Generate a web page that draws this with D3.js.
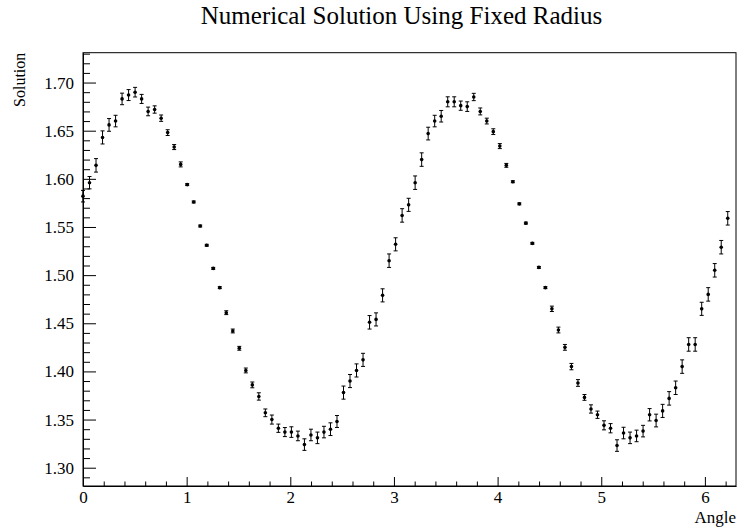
<!DOCTYPE html>
<html>
<head>
<meta charset="utf-8">
<script src="https://cdn.jsdelivr.net/npm/d3@7"></script>
<style>
  html, body { margin: 0; padding: 0; background: #fff; }
  svg { display: block; }
</style>
</head>
<body>
<svg id="chart" width="737" height="527"></svg>
<script>
const title = "Numerical Solution Using Fixed Radius";
const xLabel = "Angle";
const yLabel = "Solution";

const angles = [
  0.0000, 0.0628, 0.1257, 0.1885, 0.2513, 0.3142, 0.3770, 0.4398, 0.5027, 0.5655,
  0.6283, 0.6912, 0.7540, 0.8168, 0.8796, 0.9425, 1.0053, 1.0681, 1.1310, 1.1938,
  1.2566, 1.3195, 1.3823, 1.4451, 1.5080, 1.5708, 1.6336, 1.6965, 1.7593, 1.8221,
  1.8850, 1.9478, 2.0106, 2.0735, 2.1363, 2.1991, 2.2619, 2.3248, 2.3876, 2.4504,
  2.5133, 2.5761, 2.6389, 2.7018, 2.7646, 2.8274, 2.8903, 2.9531, 3.0159, 3.0788,
  3.1416, 3.2044, 3.2673, 3.3301, 3.3929, 3.4558, 3.5186, 3.5814, 3.6442, 3.7071,
  3.7699, 3.8327, 3.8956, 3.9584, 4.0212, 4.0841, 4.1469, 4.2097, 4.2726, 4.3354,
  4.3982, 4.4611, 4.5239, 4.5867, 4.6496, 4.7124, 4.7752, 4.8381, 4.9009, 4.9637,
  5.0265, 5.0894, 5.1522, 5.2150, 5.2779, 5.3407, 5.4035, 5.4664, 5.5292, 5.5920,
  5.6549, 5.7177, 5.7805, 5.8434, 5.9062, 5.9690, 6.0319, 6.0947, 6.1575, 6.2204
];

const solution = [
  1.582, 1.596, 1.614, 1.643, 1.656, 1.660, 1.683, 1.687, 1.690, 1.683,
  1.670, 1.672, 1.663, 1.648, 1.633, 1.615, 1.594, 1.576, 1.551, 1.531,
  1.507, 1.487, 1.461, 1.442, 1.424, 1.401, 1.386, 1.374, 1.357, 1.350,
  1.341, 1.337, 1.337, 1.333, 1.324, 1.334, 1.331, 1.337, 1.340, 1.348,
  1.378, 1.390, 1.401, 1.412, 1.451, 1.454, 1.479, 1.515, 1.532, 1.562,
  1.573, 1.596, 1.620, 1.647, 1.660, 1.665, 1.680, 1.680, 1.676, 1.675,
  1.685, 1.670, 1.660, 1.649, 1.634, 1.614, 1.597, 1.574, 1.554, 1.533,
  1.508, 1.487, 1.465, 1.443, 1.425, 1.405, 1.388, 1.373, 1.361, 1.355,
  1.344, 1.341, 1.323, 1.336, 1.331, 1.333, 1.338, 1.355, 1.349, 1.359,
  1.372, 1.383, 1.405, 1.428, 1.428, 1.465, 1.480, 1.505, 1.529, 1.559
];

const errors = [
  0.0060, 0.0064, 0.0070, 0.0068, 0.0066, 0.0060, 0.0060, 0.0057, 0.0050, 0.0047,
  0.0045, 0.0038, 0.0033, 0.0030, 0.0026, 0.0026, 0.0010, 0.0010, 0.0010, 0.0010,
  0.0010, 0.0010, 0.0020, 0.0020, 0.0020, 0.0025, 0.0030, 0.0038, 0.0040, 0.0047,
  0.0043, 0.0047, 0.0055, 0.0050, 0.0060, 0.0060, 0.0060, 0.0060, 0.0066, 0.0062,
  0.0068, 0.0068, 0.0068, 0.0068, 0.0070, 0.0068, 0.0068, 0.0070, 0.0068, 0.0070,
  0.0068, 0.0070, 0.0070, 0.0066, 0.0060, 0.0060, 0.0052, 0.0052, 0.0048, 0.0050,
  0.0038, 0.0036, 0.0030, 0.0030, 0.0026, 0.0020, 0.0010, 0.0010, 0.0010, 0.0010,
  0.0010, 0.0010, 0.0028, 0.0030, 0.0030, 0.0033, 0.0035, 0.0030, 0.0043, 0.0038,
  0.0047, 0.0048, 0.0060, 0.0060, 0.0060, 0.0060, 0.0060, 0.0064, 0.0066, 0.0068,
  0.0070, 0.0070, 0.0070, 0.0070, 0.0070, 0.0068, 0.0070, 0.0070, 0.0070, 0.0070
];

const xMajorTicks = [0, 1, 2, 3, 4, 5, 6];
const yMajorTicks = [1.30, 1.35, 1.40, 1.45, 1.50, 1.55, 1.60, 1.65, 1.70];

const xDomain = [0, 6.3];
const yDomain = [1.281, 1.731];

const FONT = "'Liberation Serif', Tinos, 'Times New Roman', 'Nimbus Roman', 'DejaVu Serif', serif";

const svg = d3.select("#chart");
const pLeft = 83, pRight = 736, pTop = 52.7, pBottom = 486;

const x = d3.scaleLinear().domain(xDomain).range([pLeft, pRight]);
const y = d3.scaleLinear().domain(yDomain).range([pBottom, pTop]);

// minor tick values derived from the major tick step
const xMinor = d3.range(0, 63).map(i => i * 0.2).filter(v => v <= xDomain[1] && !xMajorTicks.some(t => Math.abs(t - v) < 1e-6));
const yMinor = d3.range(128, 174).map(i => i / 100).filter(v => v >= yDomain[0] && v <= yDomain[1] && !yMajorTicks.some(t => Math.abs(t - v) < 1e-6));

// frame
svg.append("rect")
  .attr("x", pLeft).attr("y", pTop)
  .attr("width", pRight - pLeft).attr("height", pBottom - pTop)
  .attr("fill", "none").attr("stroke", "#000").attr("stroke-width", 1);

// x axis
const gx = svg.append("g").attr("transform", `translate(0,${pBottom})`);
gx.call(d3.axisBottom(x).tickValues(xMajorTicks).tickFormat(d3.format("d"))
  .tickSizeInner(-9).tickSizeOuter(0).tickPadding(5));
gx.append("g").call(d3.axisBottom(x).tickValues(xMinor).tickFormat("")
  .tickSizeInner(-4.5).tickSizeOuter(0)).select(".domain").remove();

// y axis
const gy = svg.append("g").attr("transform", `translate(${pLeft},0)`);
gy.call(d3.axisLeft(y).tickValues(yMajorTicks).tickFormat(d3.format(".2f"))
  .tickSizeInner(-13).tickSizeOuter(0).tickPadding(9));
gy.append("g").call(d3.axisLeft(y).tickValues(yMinor).tickFormat("")
  .tickSizeInner(-7).tickSizeOuter(0)).select(".domain").remove();

svg.selectAll(".tick text")
  .attr("font-family", null).attr("font-size", null)
  .style("font-family", FONT).style("font-size", "17px").style("fill", "#000");
svg.selectAll("g").attr("font-family", FONT);
svg.selectAll(".domain").attr("stroke", "#000");
svg.selectAll(".tick line").attr("stroke", "#000");

// data
const data = angles.map((a, i) => ({ a, v: solution[i], e: errors[i] }));
const g = svg.append("g");
const pts = g.selectAll("g.pt").data(data).join("g").attr("class", "pt");
pts.append("line")
  .attr("x1", d => x(d.a)).attr("x2", d => x(d.a))
  .attr("y1", d => y(d.v - d.e)).attr("y2", d => y(d.v + d.e))
  .attr("stroke", "#000").attr("stroke-width", 1);
pts.append("line")
  .attr("x1", d => x(d.a) - 2).attr("x2", d => x(d.a) + 2)
  .attr("y1", d => y(d.v + d.e)).attr("y2", d => y(d.v + d.e))
  .attr("stroke", "#000").attr("stroke-width", 1);
pts.append("line")
  .attr("x1", d => x(d.a) - 2).attr("x2", d => x(d.a) + 2)
  .attr("y1", d => y(d.v - d.e)).attr("y2", d => y(d.v - d.e))
  .attr("stroke", "#000").attr("stroke-width", 1);
pts.append("circle")
  .attr("cx", d => x(d.a)).attr("cy", d => y(d.v)).attr("r", 1.8)
  .attr("fill", "#000");

// title
svg.append("text")
  .attr("x", 401.5).attr("y", 24)
  .attr("text-anchor", "middle")
  .style("font-family", FONT)
  .style("font-size", "25px")
  .text(title);

// axis labels
svg.append("text")
  .attr("x", pRight).attr("y", 523)
  .attr("text-anchor", "end")
  .style("font-family", FONT)
  .style("font-size", "17px")
  .text(xLabel);

svg.append("text")
  .attr("transform", `translate(25,${pTop}) rotate(-90)`)
  .attr("text-anchor", "end")
  .style("font-family", FONT)
  .style("font-size", "16px")
  .text(yLabel);
</script>
</body>
</html>
